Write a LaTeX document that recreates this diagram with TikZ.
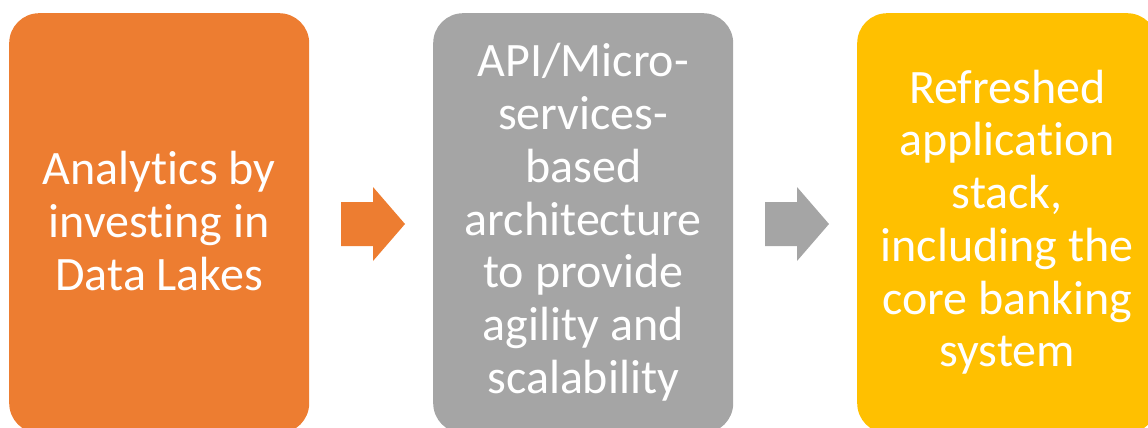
\documentclass[tikz,border=0pt]{standalone}
\usepackage{fontspec}
\setmainfont{Carlito}[Ligatures=NoCommon]
\definecolor{cOrange}{HTML}{ED7D31}
\definecolor{cGray}{HTML}{A5A5A5}
\definecolor{cYellow}{HTML}{FFC000}
\begin{document}
\begin{tikzpicture}[x=1pt,y=-1pt,
  box/.style={rounded corners=30pt, minimum width=300pt, minimum height=420pt, inner sep=0pt, anchor=north west},
  label/.style={text=white, align=center, font=\fontsize{48}{52.7}\selectfont}]
\useasboundingbox (0,0) rectangle (1148,428);
\clip (0,0) rectangle (1148,428);
\node[box, fill=cOrange] (b1) at (9,13) {};
\node[box, fill=cGray] (b2) at (433,13) {};
\node[box, fill=cYellow] (b3) at (857,13) {};
\node[label] (t1) at ([yshift=2pt]b1.center) {Analytics by\\investing in\\Data Lakes};
\node[label] (t2) at ([yshift=1pt]b2.center) {API/Micro-\\services-\\based\\architecture\\to provide\\agility and\\scalability};
\node[label] (t3) at ([yshift=1pt]b3.center) {Refreshed\\application\\stack,\\including the\\core banking\\system};
\coordinate (a1) at (341,224);
\coordinate (a2) at (765,224);
\foreach \a/\c in {a1/cOrange, a2/cGray}{
  \fill[\c] (\a) ++(0,-22) -- ++(32,0) -- ++(0,-15) -- ++(32,37) -- ++(-32,37) -- ++(0,-15) -- ++(-32,0) -- cycle;
}
\end{tikzpicture}
\end{document}
